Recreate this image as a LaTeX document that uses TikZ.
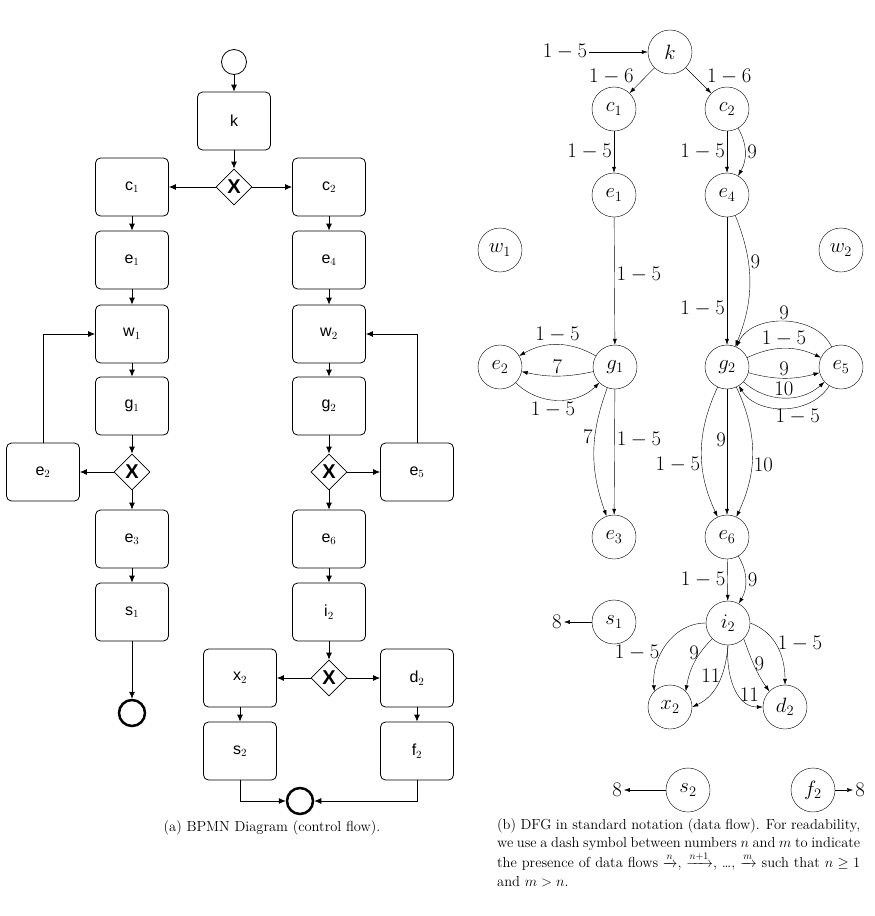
\documentclass[tikz,border=0pt]{standalone}
\usepackage{amsmath}
\usepackage{fontspec}
\newfontfamily\bpmnfont{Liberation Sans}
\usetikzlibrary{arrows.meta,shapes.geometric}
\begin{document}
\begin{tikzpicture}[x=1pt,y=-1pt,
  box/.style={draw,thick,rounded corners=5pt,minimum width=73pt,minimum height=58pt,font=\bpmnfont\fontsize{16}{18}\selectfont},
  gw/.style={draw,thick,diamond,minimum width=36pt,minimum height=36pt,inner sep=0pt,font=\bpmnfont\bfseries\fontsize{20}{20}\selectfont},
  ev/.style={draw,thick,circle,minimum size=25pt,inner sep=0pt},
  endev/.style={draw,line width=2.5pt,circle,minimum size=26pt,inner sep=0pt},
  barr/.style={thick,-{Latex[length=7pt,width=6pt]}},
  st/.style={draw,circle,minimum size=44pt,inner sep=0pt,font=\fontsize{20}{24}\selectfont},
  lb/.style={font=\fontsize{20}{24}\selectfont,inner sep=2pt},
  arr/.style={-{Latex[length=6pt,width=4pt]}}]
\useasboundingbox (0,0) rectangle (875,916);
% ---------- BPMN ----------
\node[ev] (start) at (234,62) {};
\node[box] (bk) at (234,121) {k};
\node[gw] (gw1) at (234,187) {X};
\node[box] (bc1) at (132,187) {c$_1$};
\node[box] (bc2) at (329,187) {c$_2$};
\node[box] (be1) at (132,260) {e$_1$};
\node[box] (be4) at (329,260) {e$_4$};
\node[box] (bw1) at (132,334) {w$_1$};
\node[box] (bw2) at (329,334) {w$_2$};
\node[box] (bg1) at (132,406) {g$_1$};
\node[box] (bg2) at (329,406) {g$_2$};
\node[gw] (gw2) at (132,472) {X};
\node[gw] (gw3) at (329,472) {X};
\node[box] (be2) at (43,472) {e$_2$};
\node[box] (be5) at (417,472) {e$_5$};
\node[box] (be3) at (132,539) {e$_3$};
\node[box] (be6) at (329,539) {e$_6$};
\node[box] (bs1) at (132,612) {s$_1$};
\node[box] (bi2) at (329,612) {i$_2$};
\node[endev] (end1) at (132,713) {};
\node[gw] (gw4) at (329,678) {X};
\node[box] (bx2) at (240,678) {x$_2$};
\node[box] (bd2) at (417,678) {d$_2$};
\node[box] (bs2) at (240,751) {s$_2$};
\node[box] (bf2) at (417,751) {f$_2$};
\node[endev] (end2) at (300,801) {};
\draw[barr] (start) -- (bk);
\draw[barr] (bk) -- (gw1);
\draw[barr] (gw1) -- (bc1);
\draw[barr] (gw1) -- (bc2);
\draw[barr] (bc1) -- (be1);
\draw[barr] (bc2) -- (be4);
\draw[barr] (be1) -- (bw1);
\draw[barr] (be4) -- (bw2);
\draw[barr] (bw1) -- (bg1);
\draw[barr] (bw2) -- (bg2);
\draw[barr] (bg1) -- (gw2);
\draw[barr] (bg2) -- (gw3);
\draw[barr] (gw2) -- (be2);
\draw[barr] (gw3) -- (be5);
\draw[barr] (be2.north) |- (bw1.west);
\draw[barr] (be5.north) |- (bw2.east);
\draw[barr] (gw2) -- (be3);
\draw[barr] (gw3) -- (be6);
\draw[barr] (be3) -- (bs1);
\draw[barr] (be6) -- (bi2);
\draw[barr] (bs1) -- (end1);
\draw[barr] (bi2) -- (gw4);
\draw[barr] (gw4) -- (bx2);
\draw[barr] (gw4) -- (bd2);
\draw[barr] (bx2) -- (bs2);
\draw[barr] (bd2) -- (bf2);
\draw[barr] (bs2.south) |- (end2.west);
\draw[barr] (bf2.south) |- (end2.east);
\node[font=\fontsize{14.5}{18}\selectfont] (capa) at (272,828) {(a) BPMN Diagram (control flow).};
% ---------- DFG ----------
\node[st] (k) at (670,52) {$k$};
\node[lb] (in) at (565,52) {$1-5$};
\node[st] (c1) at (614,109) {$c_1$};
\node[st] (c2) at (727,109) {$c_2$};
\node[st] (e1) at (614,195) {$e_1$};
\node[st] (e4) at (727,195) {$e_4$};
\node[st] (w1) at (500,250) {$w_1$};
\node[st] (w2) at (841,250) {$w_2$};
\node[st] (g1) at (615,367) {$g_1$};
\node[st] (g2) at (727,367) {$g_2$};
\node[st] (e2) at (500,367) {$e_2$};
\node[st] (e5) at (841,367) {$e_5$};
\node[st] (e3) at (614,537) {$e_3$};
\node[st] (e6) at (727,537) {$e_6$};
\node[st] (s1) at (614,622) {$s_1$};
\node[st] (i2) at (728,623) {$i_2$};
\node[st] (x2) at (670,707) {$x_2$};
\node[st] (d2) at (785,707) {$d_2$};
\node[st] (s2) at (688,790) {$s_2$};
\node[st] (f2) at (813,790) {$f_2$};
\node[lb] (o1) at (557,622) {$8$};
\node[lb] (o2) at (617,790) {$8$};
\node[lb] (o3) at (860,790) {$8$};
\draw[arr] (in) -- (k);
\draw[arr] (k) -- node[lb,above left,pos=.75] {$1-6$} (c1);
\draw[arr] (k) -- node[lb,above right,pos=.75] {$1-6$} (c2);
\draw[arr] (c1) -- node[lb,left] {$1-5$} (e1);
\draw[arr] (c2) -- node[lb,left] {$1-5$} (e4);
\draw[arr] (c2) to[bend left=30] node[lb,right] {$9$} (e4);
\draw[arr] (e1) -- node[lb,right,pos=.45] {$1-5$} (g1);
\draw[arr] (e4) -- node[lb,left,pos=.72] {$1-5$} (g2);
\draw[arr] (e4) to[bend left=22] node[lb,right,pos=.35] {$9$} (g2);
% g1 - e2
\draw[arr] (g1) to[bend right=30] node[lb,above] {$1-5$} (e2);
\draw[arr] (g1) to[bend left=12] node[lb,above] {$7$} (e2);
\draw[arr] (e2) to[bend right=45] node[lb,below,pos=.45] {$1-5$} (g1);
\draw[arr] (g1) -- node[lb,right,pos=.4] {$1-5$} (e3);
\draw[arr] (g1) to[bend right=20] node[lb,left,pos=.38] {$7$} (e3);
% g2 - e5
\draw[arr] (g2) to[bend left=25] node[lb,above] {$1-5$} (e5);
\draw[arr] (g2) to[bend right=15] node[lb,above] {$9$} (e5);
\draw[arr] (e5) to[bend right=65] node[lb,above] {$9$} (g2);
\draw[arr] (g2) to[bend right=42] node[lb,above,pos=.5] {$10$} (e5);
\draw[arr] (e5) to[bend left=58] node[lb,below right,pos=.6] {$1-5$} (g2);
% g2 - e6
\draw[arr] (g2) -- node[lb,left,pos=.4,inner sep=1pt] {$9$} (e6);
\draw[arr] (g2) to[bend right=25] node[lb,left,pos=.6] {$1-5$} (e6);
\draw[arr] (g2) to[bend left=25] node[lb,right,pos=.6] {$10$} (e6);
% e6 - i2
\draw[arr] (e6) -- node[lb,left] {$1-5$} (i2);
\draw[arr] (e6) to[bend left=30] node[lb,right] {$9$} (i2);
% i2 - x2, d2
\draw[arr] (i2.west) to[out=180,in=95] node[lb,left,pos=.6] {$1-5$} (x2.north west);
\draw[arr] (i2.south west) to[out=225,in=80] node[lb,left,pos=.3,inner sep=1pt] {$9$} (x2.north east);
\draw[arr] (i2.south) to[out=265,in=25] node[lb,left,pos=.4,inner sep=1pt] {$11$} (x2.east);
\draw[arr] (i2.south) to[out=265,in=180] node[lb,right,pos=.62,inner sep=1pt] {$11$} (d2.west);
\draw[arr] (i2.south east) to[out=290,in=125] node[lb,right,pos=.45,inner sep=1pt] {$9$} (d2.north west);
\draw[arr] (i2.east) to[out=-20,in=90] node[lb,right,pos=.45] {$1-5$} (d2.north);
\draw[arr] (s1) -- (o1);
\draw[arr] (s2) -- (o2);
\draw[arr] (f2) -- (o3);
\node[anchor=north west,inner sep=0pt,font=\fontsize{14.5}{18.5}\selectfont] (capb) at (497,818)
 {\parbox{363pt}{(b) DFG in standard notation (data flow). For readability, we use a dash symbol between numbers $n$ and $m$ to indicate the presence of data flows $\xrightarrow{n}$, $\xrightarrow{n+1}$, \dots, $\xrightarrow{m}$ such that $n \geq 1$ and $m > n$.}};
\end{tikzpicture}
\end{document}
